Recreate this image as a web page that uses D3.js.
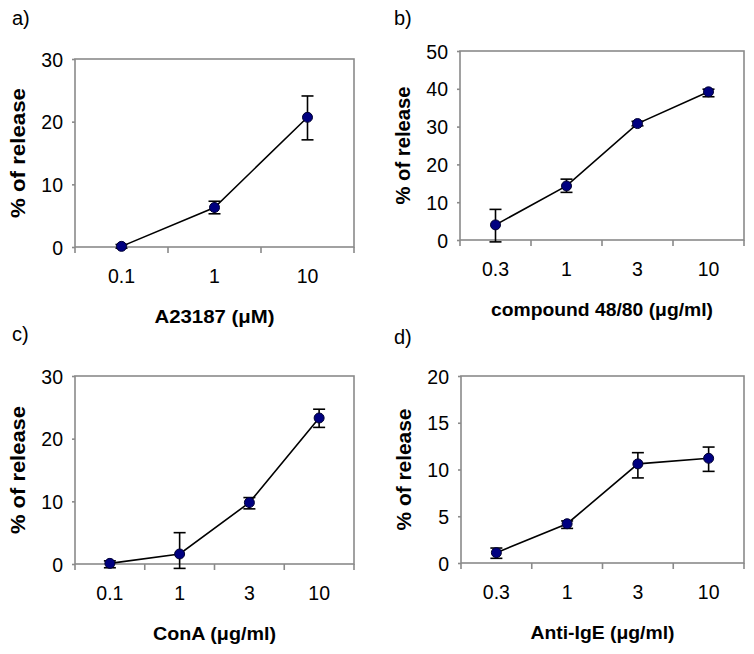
<!DOCTYPE html>
<html>
<head>
<meta charset="utf-8">
<script src="https://cdn.jsdelivr.net/npm/d3@7"></script>
<style>
  html, body { margin: 0; padding: 0; background: #fff; }
  svg { display: block; font-family: "Liberation Sans", Arial, sans-serif; }
</style>
</head>
<body>
<svg id="chart" width="754" height="654"></svg>
<script>
// ---------- data ----------
const panelLabels = ["a)", "b)", "c)", "d)"];
const xTitles = ["A23187 (\u03bcM)", "compound 48/80 (\u03bcg/ml)", "ConA (\u03bcg/ml)", "Anti-IgE (\u03bcg/ml)"];
const yTitle = "% of release";

const catsA = ["0.1", "1", "10"];
const valsA = [0.1, 6.3, 20.7];
const hiA   = [0.4, 7.3, 24.1];
const loA   = [-0.2, 5.3, 17.1];
const yTicksA = [0, 10, 20, 30];

const catsB = ["0.3", "1", "3", "10"];
const valsB = [4.0, 14.3, 30.8, 39.2];
const hiB   = [8.1, 16.1, 31.4, 39.9];
const loB   = [-0.5, 12.6, 30.2, 37.9];
const yTicksB = [0, 10, 20, 30, 40, 50];

const catsC = ["0.1", "1", "3", "10"];
const valsC = [0.1, 1.6, 9.8, 23.3];
const hiC   = [0.5, 5.0, 10.6, 24.7];
const loC   = [-0.6, -0.7, 8.8, 21.8];
const yTicksC = [0, 10, 20, 30];

const catsD = ["0.3", "1", "3", "10"];
const valsD = [1.1, 4.2, 10.6, 11.2];
const hiD   = [1.6, 4.5, 11.8, 12.4];
const loD   = [0.5, 3.7, 9.1, 9.8];
const yTicksD = [0, 5, 10, 15, 20];

// ---------- layout ----------
const layout = [
  { left: 75,  right: 354, top: 59,  bottom: 247, lx: 12,  ly: 25,  yTitleLen: 130, xTitleLen: 120 },
  { left: 460, right: 744, top: 51,  bottom: 240, lx: 394, ly: 25,  yTitleLen: 118, xTitleLen: 222 },
  { left: 75,  right: 354, top: 376, bottom: 564, lx: 12,  ly: 341, yTitleLen: 128, xTitleLen: 123 },
  { left: 461, right: 744, top: 376, bottom: 563, lx: 394, ly: 344, yTitleLen: 122, xTitleLen: 144 }
];

const panels = [
  { cats: catsA, vals: valsA, hi: hiA, lo: loA, ticks: yTicksA },
  { cats: catsB, vals: valsB, hi: hiB, lo: loB, ticks: yTicksB },
  { cats: catsC, vals: valsC, hi: hiC, lo: loC, ticks: yTicksC },
  { cats: catsD, vals: valsD, hi: hiD, lo: loD, ticks: yTicksD }
];

const svg = d3.select("#chart");
const boxColor = "#8a8a8a";

panels.forEach((p, i) => {
  const L = layout[i];
  const x = d3.scaleBand().domain(p.cats).range([L.left, L.right]).paddingInner(0).paddingOuter(0);
  const y = d3.scaleLinear().domain([p.ticks[0], p.ticks[p.ticks.length - 1]]).range([L.bottom, L.top]);
  const g = svg.append("g");

  // panel label
  svg.append("text").attr("x", L.lx).attr("y", L.ly)
    .attr("font-size", 20).attr("fill", "#000").text(panelLabels[i]);

  // plot box
  g.append("rect")
    .attr("x", L.left).attr("y", L.top)
    .attr("width", L.right - L.left).attr("height", L.bottom - L.top)
    .attr("fill", "none").attr("stroke", boxColor).attr("stroke-width", 1.6);

  // y axis
  const ya = g.append("g").attr("transform", `translate(${L.left},0)`)
    .call(d3.axisLeft(y).tickValues(p.ticks).tickSize(3).tickPadding(9).tickFormat(d3.format("d")));
  ya.select(".domain").remove();
  ya.selectAll(".tick line").attr("stroke", boxColor).attr("stroke-width", 1.6);
  ya.selectAll(".tick text").attr("font-size", 19.5).attr("fill", "#000")
    .attr("font-family", "Liberation Sans, Arial, sans-serif").attr("dy", "0.36em");

  // x axis labels
  const xa = g.append("g").attr("transform", `translate(0,${L.bottom})`)
    .call(d3.axisBottom(x).tickSize(0));
  xa.select(".domain").remove();
  xa.selectAll(".tick text").attr("font-size", 19.5).attr("fill", "#000")
    .attr("font-family", "Liberation Sans, Arial, sans-serif")
    .attr("y", 36).attr("dy", 0);

  // x tick marks at category boundaries
  const bounds = p.cats.map(c => x(c)).concat([x(p.cats[p.cats.length - 1]) + x.bandwidth()]);
  g.selectAll("line.xt").data(bounds).join("line")
    .attr("x1", d => d).attr("x2", d => d)
    .attr("y1", L.bottom).attr("y2", L.bottom + 6)
    .attr("stroke", boxColor).attr("stroke-width", 1.6);

  // axis titles
  g.append("text")
    .attr("transform", `translate(${L.left - 50},${(L.top + L.bottom) / 2}) rotate(-90)`)
    .attr("text-anchor", "middle").attr("font-size", 20).attr("font-weight", "bold")
    .attr("textLength", L.yTitleLen).attr("lengthAdjust", "spacingAndGlyphs")
    .text(yTitle);
  g.append("text")
    .attr("x", (L.left + L.right) / 2).attr("y", L.bottom + 76)
    .attr("text-anchor", "middle").attr("font-size", 19).attr("font-weight", "bold")
    .attr("textLength", L.xTitleLen).attr("lengthAdjust", "spacingAndGlyphs")
    .text(xTitles[i]);

  const cx = c => x(c) + x.bandwidth() / 2;
  const pts = p.cats.map((c, k) => ({ c, v: p.vals[k], hi: p.hi[k], lo: p.lo[k] }));

  // error bars
  const eb = g.selectAll("g.eb").data(pts).join("g");
  eb.append("line")
    .attr("x1", d => cx(d.c)).attr("x2", d => cx(d.c))
    .attr("y1", d => y(d.hi)).attr("y2", d => y(d.lo))
    .attr("stroke", "#000").attr("stroke-width", 1.6);
  eb.append("line")
    .attr("x1", d => cx(d.c) - 6).attr("x2", d => cx(d.c) + 6)
    .attr("y1", d => y(d.hi)).attr("y2", d => y(d.hi))
    .attr("stroke", "#000").attr("stroke-width", 1.6);
  eb.append("line")
    .attr("x1", d => cx(d.c) - 6).attr("x2", d => cx(d.c) + 6)
    .attr("y1", d => y(d.lo)).attr("y2", d => y(d.lo))
    .attr("stroke", "#000").attr("stroke-width", 1.6);

  // connecting line
  g.append("path").datum(pts)
    .attr("d", d3.line().x(d => cx(d.c)).y(d => y(d.v)))
    .attr("fill", "none").attr("stroke", "#000").attr("stroke-width", 1.6);

  // markers
  g.selectAll("circle.m").data(pts).join("circle")
    .attr("cx", d => cx(d.c)).attr("cy", d => y(d.v)).attr("r", 5)
    .attr("fill", "#000080").attr("stroke", "#000030").attr("stroke-width", 1);
});
</script>
</body>
</html>
